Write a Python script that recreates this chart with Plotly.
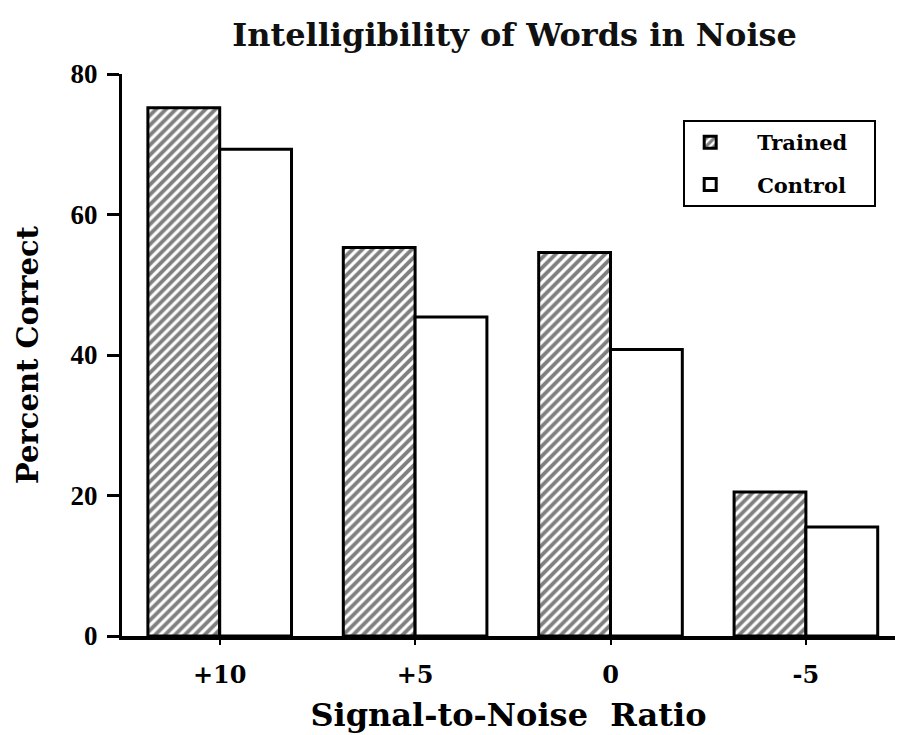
import plotly.graph_objects as go

categories = ["+10", "+5", "0", "-5"]
trained = [75.2, 55.3, 54.6, 20.5]
control = [69.3, 45.4, 40.8, 15.5]
y_ticks = [0, 20, 40, 60, 80]

SERIF = "DejaVu Serif"
TIMES = "Liberation Serif"
PAD = "\u00a0\u00a0\u00a0"

fig = go.Figure()
fig.add_trace(go.Bar(
    name=PAD + "Trained" + PAD, x=categories, y=trained, legendgroup="t",
    marker=dict(color="white",
                line=dict(color="black", width=3),
                pattern=dict(shape="/", fgcolor="black", bgcolor="white",
                             size=7, solidity=0.55)),
))
fig.add_trace(go.Bar(
    name=PAD + "Control" + PAD, x=categories, y=control, legendgroup="c",
    marker=dict(color="white", line=dict(color="black", width=3)),
))

fig.update_layout(
    width=898, height=735,
    margin=dict(l=122, r=3, t=74, b=99),
    paper_bgcolor="white", plot_bgcolor="white",
    barmode="group", bargap=0.265, bargroupgap=0,
    font=dict(family=SERIF, color="black"),
    title=dict(text="Intelligibility of Words in Noise",
               font=dict(family=SERIF, size=32, color="#111", weight="bold"),
               x=0.573, xanchor="center", y=0.952, yanchor="middle"),
    legend=dict(x=0.726, y=0.918, xanchor="left", yanchor="top",
                bgcolor="white", bordercolor="black", borderwidth=2,
                font=dict(family=SERIF, size=21, color="black", weight="bold"),
                itemwidth=40, traceorder="grouped", tracegroupgap=12),
    showlegend=True,
)
fig.update_xaxes(
    type="category", range=[-0.5, 3.456], automargin=False,
    showline=True, linecolor="black", linewidth=4,
    ticks="outside", ticklen=5, tickwidth=2, tickcolor="black",
    ticklabelstandoff=9,
    tickfont=dict(family=SERIF, size=24, weight="bold"),
    showgrid=False, zeroline=False,
    title=dict(text="Signal-to-Noise  Ratio", standoff=17,
               font=dict(family=SERIF, size=32, weight="bold")),
)
fig.update_yaxes(
    range=[0, 80], tickvals=y_ticks, automargin=False,
    showline=True, linecolor="black", linewidth=3,
    ticks="outside", ticklen=12, tickwidth=3, tickcolor="black",
    ticklabelstandoff=4,
    tickfont=dict(family=TIMES, size=27, weight="bold"),
    showgrid=False, zeroline=False,
    title=dict(text="Percent Correct", standoff=24,
               font=dict(family=SERIF, size=29, weight="bold")),
)

fig.write_html("out.html", config={"displayModeBar": False},
               post_script="document.body.style.margin='0';")
